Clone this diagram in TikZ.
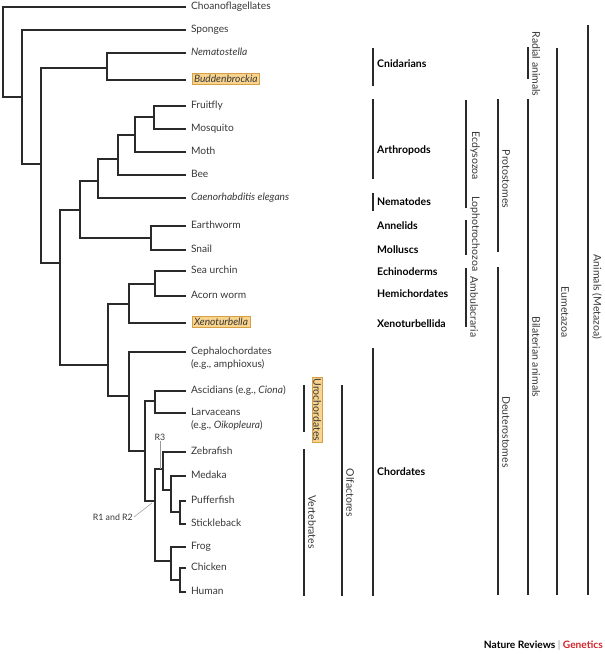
\documentclass[tikz,border=0pt]{standalone}
\usepackage{fontspec}
\setmainfont{Lato}
\usetikzlibrary{positioning,calc}
\definecolor{treeline}{HTML}{2A2A2A}
\definecolor{txtgray}{HTML}{383838}
\definecolor{hlfill}{HTML}{F8D48E}
\definecolor{hldraw}{HTML}{D6A145}
\definecolor{nrred}{HTML}{D2232A}
\tikzset{
  branch/.style={line width=1.2pt, color=treeline},
  leaf/.style={anchor=mid west, inner sep=1pt, outer xsep=4pt, text=txtgray,
    font=\fontsize{10.2}{13}\selectfont},
  hlleaf/.style={leaf, fill=hlfill, draw=hldraw, line width=0.5pt, inner sep=2pt, outer xsep=6pt},
  group/.style={anchor=west, inner sep=0pt, font=\bfseries\fontsize{10.5}{12}\selectfont},
  cladebar/.style={line width=1.2pt, color=treeline},
  cladetext/.style={rotate=-90, anchor=south, inner sep=1.5pt, text=txtgray,
    font=\fontsize{10.5}{12}\selectfont},
  note/.style={inner sep=1pt, text=txtgray, font=\fontsize{8.8}{10}\selectfont},
  pointer/.style={line width=0.5pt, color=black!40}
}

\begin{document}
\begin{tikzpicture}[x=1pt,y=-1pt]
\useasboundingbox (0,0) rectangle (605,654);

% leaves
\node[leaf] (choano) at (186,7) {Choanoflagellates};
\node[leaf] (sponge) at (186,30) {Sponges};
\node[leaf] (nemato) at (186,53) {\itshape Nematostella};
\node[hlleaf] (budden) at (186,80) {\itshape Buddenbrockia};
\node[leaf] (fruit) at (186,106) {Fruitfly};
\node[leaf] (mosq) at (186,129) {Mosquito};
\node[leaf] (moth) at (186,152) {Moth};
\node[leaf] (bee) at (186,175) {Bee};
\node[leaf] (celeg) at (186,198) {\itshape Caenorhabditis elegans};
\node[leaf] (earth) at (186,226) {Earthworm};
\node[leaf] (snail) at (186,250) {Snail};
\node[leaf] (urchin) at (186,271) {Sea urchin};
\node[leaf] (acorn) at (186,296) {Acorn worm};
\node[hlleaf] (xeno) at (186,323) {\itshape Xenoturbella};
\node[leaf] (ceph) at (186,352)
  {\begin{tabular}[t]{@{}l@{}}Cephalochordates\\(e.g., amphioxus)\end{tabular}};
\node[leaf] (ascid) at (186,391) {Ascidians (e.g., \textit{Ciona})};
\node[leaf] (larv) at (186,413)
  {\begin{tabular}[t]{@{}l@{}}Larvaceans\\(e.g., \textit{Oikopleura})\end{tabular}};
\node[leaf] (zebra) at (186,452) {Zebrafish};
\node[leaf] (medaka) at (186,476) {Medaka};
\node[leaf] (puffer) at (186,501) {Pufferfish};
\node[leaf] (stickle) at (186,524) {Stickleback};
\node[leaf] (frog) at (186,547) {Frog};
\node[leaf] (chick) at (186,568) {Chicken};
\node[leaf] (human) at (186,592) {Human};

% internal nodes
\coordinate (root) at (3,52);
\coordinate (met) at (22,97);
\coordinate (eum) at (41,164);
\coordinate (cni) at (107,68);
\coordinate (bil) at (60,263);
\coordinate (pro) at (80,210);
\coordinate (ecd) at (98,181);
\coordinate (art) at (118,159);
\coordinate (ins) at (135,135);
\coordinate (dip) at (154,117);
\coordinate (lop) at (151,238);
\coordinate (deu) at (108,365);
\coordinate (amb) at (129,304);
\coordinate (ehc) at (155,284);
\coordinate (cho) at (129,396);
\coordinate (olf) at (145,451);
\coordinate (uro) at (155,401);
\coordinate (ver) at (155,501);
\coordinate (fis) at (163,469);
\coordinate (fi2) at (171,490);
\coordinate (fi3) at (180,512);
\coordinate (tet) at (171,561);
\coordinate (amn) at (180,580);

% tree
\draw[branch] (root) |- (choano.mid west) (root) |- (met)
  (met) |- (sponge.mid west) (met) |- (eum)
  (eum) |- (cni) (eum) |- (bil)
  (cni) |- (nemato.mid west) (cni) |- (budden.mid west)
  (bil) |- (pro) (bil) |- (deu)
  (pro) |- (ecd) (pro) |- (lop)
  (ecd) |- (art) (ecd) |- (celeg.mid west)
  (art) |- (ins) (art) |- (bee.mid west)
  (ins) |- (dip) (ins) |- (moth.mid west)
  (dip) |- (fruit.mid west) (dip) |- (mosq.mid west)
  (lop) |- (earth.mid west) (lop) |- (snail.mid west)
  (deu) |- (amb) (deu) |- (cho)
  (amb) |- (ehc) (amb) |- (xeno.mid west)
  (ehc) |- (urchin.mid west) (ehc) |- (acorn.mid west)
  (cho) |- (ceph.mid west) (cho) |- (olf)
  (olf) |- (uro) (olf) |- (ver)
  (uro) |- (ascid.mid west) (uro) |- (larv.mid west)
  (ver) |- (fis) (ver) |- (tet)
  (fis) |- (zebra.mid west) (fis) |- (fi2)
  (fi2) |- (medaka.mid west) (fi2) |- (fi3)
  (fi3) |- (puffer.mid west) (fi3) |- (stickle.mid west)
  (tet) |- (frog.mid west) (tet) |- (amn)
  (amn) |- (chick.mid west) (amn) |- (human.mid west);

% receptor notes
\node[note] (r3) at (160,437) {R3};
\draw[pointer] (r3) -- (r3 |- fis);
\node[note, anchor=east] (r12) at (134,517) {R1 and R2};
\coordinate (r12tip) at (152,503);
\draw[pointer] (r12.east) -- (r12tip);

% phyla
\node[group] (cnid) at (377,64) {Cnidarians};
\node[group] (arthro) at (377,150) {Arthropods};
\node[group] (nemat) at (377,202) {Nematodes};
\node[group] (annel) at (377,226) {Annelids};
\node[group] (mollu) at (377,250) {Molluscs};
\node[group] (echin) at (377,272) {Echinoderms};
\node[group] (hemi) at (377,294) {Hemichordates};
\node[group] (xenob) at (377,324) {Xenoturbellida};
\node[group] (chord) at (377,472) {Chordates};
\foreach \ya/\yb in {48/86, 99/179, 193/211, 348/596}
  \draw[cladebar] (373,\ya) -- (373,\yb);

% larger clades
\foreach \bx/\ya/\yb/\ty/\txt [count=\i] in {
    304/449/596/522/Vertebrates, 342/385/596/493/Olfactores,
    466/100/208/156/Ecdysozoa, 466/220/255/234/Lophotrochozoa,
    466/268/327/307/Ambulacraria, 498/99/252/179/Protostomes,
    498/267/595/432/Deuterostomes, 528/47/79/64/Radial animals,
    528/99/595/357/Bilaterian animals, 557/48/595/312/Eumetazoa,
    588/25/595/297/Animals (Metazoa)} {
  \draw[cladebar] (\bx,\ya) -- (\bx,\yb);
  \node[cladetext] (clade\i) at (\bx+2.5,\ty) {\txt};
}
\draw[cladebar] (304,385) -- (304,432);
\node[cladetext, fill=hlfill, draw=hldraw, line width=0.5pt] (urolab) at (311.5,410) {Urochordates};

% journal tag
\node[anchor=east, inner sep=0pt, font=\bfseries\fontsize{10.2}{12}\selectfont] (tag) at (603,645)
  {Nature Reviews {\color{black!45}\mdseries|} \textcolor{nrred}{Genetics}};
\end{tikzpicture}
\end{document}
